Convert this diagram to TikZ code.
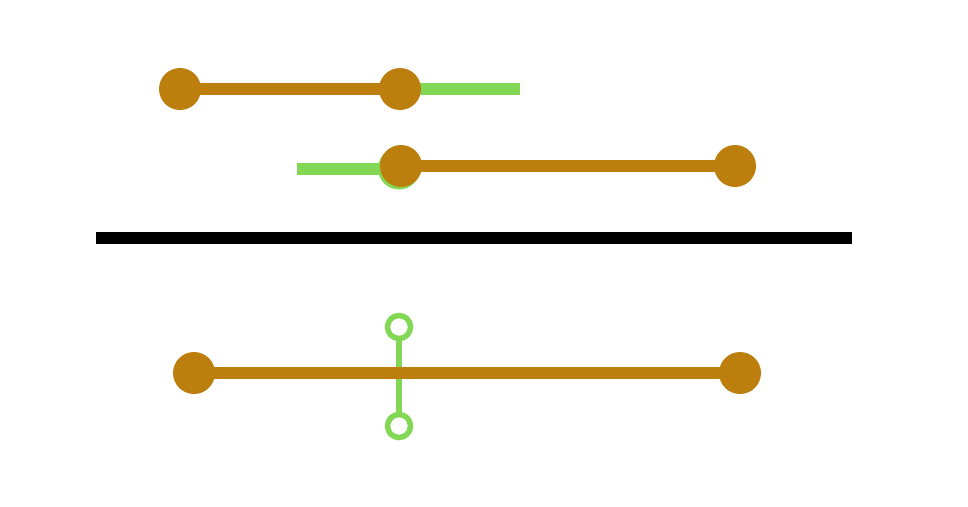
\documentclass[tikz,border=0pt]{standalone}
\usepackage{xcolor}
\usepackage{tikz}
\usetikzlibrary{positioning, backgrounds}

\definecolor{rodbrown}{RGB}{188,127,14}
\definecolor{rodgreen}{RGB}{130,215,84}

\begin{document}
\begin{tikzpicture}[
                x=1pt, y=-1pt,
                joint/.style={circle, fill=rodbrown, minimum size=42pt, inner sep=0pt},
                ghost/.style={circle, fill=rodgreen, minimum size=42pt, inner sep=0pt},
                ring/.style={circle, draw=rodgreen, fill=white, line width=5.5pt, minimum size=23pt, inner sep=0pt},
                rod/.style={draw=rodbrown, line width=12pt},
                arm/.style={draw=rodgreen, line width=12pt},
                stem/.style={draw=rodgreen, line width=5.5pt}
            ]
                \useasboundingbox (0,0) rectangle (968,506);

                % upper pair
                \node[joint] (a1) at (180,89) {};
                \node[joint] (a2) at (400,89) {};
                \coordinate (tipA) at (520,89);

                \coordinate (tipB) at (297,169);
                \node[ghost] (g1) at (399,168.5) {};
                \node[joint] (b1) at (401,166) {};
                \node[joint] (b2) at (735,166) {};

                % divider
                \coordinate (barL) at (96,238);
                \coordinate (barR) at (852,238);
                \draw[line width=12pt] (barL) -- (barR);

                % result
                \node[ring] (r1) at (399,327) {};
                \node[ring] (r2) at (399,426) {};
                \node[joint] (c1) at (194,373) {};
                \node[joint] (c2) at (740,373) {};

                \begin{pgfonlayer}{background}
                    \draw[arm] (a2.center) -- (tipA);
                    \draw[rod] (a1.center) -- (a2.center);
                    \draw[arm] (tipB) -- (g1.center |- tipB);
                    \draw[rod] (b1.center) -- (b2.center);
                    \draw[stem] (r1.center) -- (r2.center);
                    \draw[rod] (c1.center) -- (c2.center);
                \end{pgfonlayer}
            \end{tikzpicture}
\end{document}
